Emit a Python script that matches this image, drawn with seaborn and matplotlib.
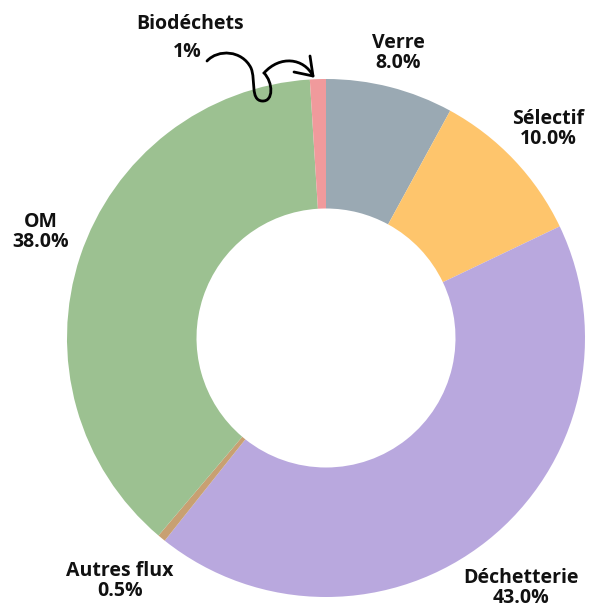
import matplotlib
matplotlib.use("Agg")
import matplotlib.pyplot as plt
from matplotlib.path import Path
from matplotlib.patches import PathPatch
import seaborn as sns

sns.set_theme(style="white")
plt.rcParams["font.family"] = ["Open Sans", "DejaVu Sans"]

categories = ["Verre", "Sélectif", "Déchetterie", "Autres flux", "OM", "Biodéchets"]
shares = [8.0, 10.0, 43.0, 0.5, 38.0, 1.0]
value_labels = ["8.0%", "10.0%", "43.0%", "0.5%", "38.0%", "1%"]
colors = ["#9aa9b3", "#fec56c", "#b9a8de", "#c8a072", "#9cc191", "#f09a9c"]

W, H = 589, 608
CX, CY, R = 326, 338, 259


def px(x, y):
    """Pixel position (origin top-left) -> data coordinates of the pie."""
    return ((x - CX) / R, (CY - y) / R)


fig = plt.figure(figsize=(W / 100, H / 100), dpi=100)
ax = fig.add_axes([0, 0, 1, 1])
ax.pie(shares, colors=colors, startangle=90, counterclock=False, radius=1.0,
       wedgeprops=dict(width=0.5, linewidth=0))
x0, y0 = px(0, H)
x1, y1 = px(W, 0)
ax.set_xlim(x0, x1)
ax.set_ylim(y0, y1)
ax.set_aspect("equal")
ax.axis("off")

FS = 14
# label anchor positions in pixels (centre of the two-line block)
label_pos = {
    "Verre": (398, 53),
    "Sélectif": (548, 129),
    "Déchetterie": (521, 588),
    "Autres flux": (120, 581),
    "OM": (41, 232),
}
for cat, val in zip(categories, value_labels):
    if cat == "Biodéchets":
        ax.text(*px(190, 24), cat, ha="center", va="center", fontsize=FS,
                fontweight="bold", color="#111111")
        ax.text(*px(187, 52), val, ha="center", va="center", fontsize=FS,
                fontweight="bold", color="#111111")
        continue
    x, y = px(*label_pos[cat])
    ax.text(x, y, f"{cat}\n{val}", ha="center", va="center", fontsize=FS,
            fontweight="bold", color="#111111", linespacing=1.05)

# hand-drawn arrow pointing at the thin Biodéchets slice
pts = [(207, 61),
       (218, 49), (242, 50), (251, 68),
       (256, 80), (250, 100), (262, 101),
       (274, 102), (273, 82), (264, 73),
       (280, 55), (304, 58), (313, 76)]
codes = [Path.MOVETO] + [Path.CURVE4] * 12
curve = Path([px(*p) for p in pts], codes)
ax.add_patch(PathPatch(curve, fill=False, lw=2.0, color="black", capstyle="round"))
head = Path([px(310, 56), px(313, 76), px(294, 72)],
            [Path.MOVETO, Path.LINETO, Path.LINETO])
ax.add_patch(PathPatch(head, fill=False, lw=2.0, color="black",
                       capstyle="round", joinstyle="round"))

fig.savefig("out.png", dpi=100, facecolor="white")
